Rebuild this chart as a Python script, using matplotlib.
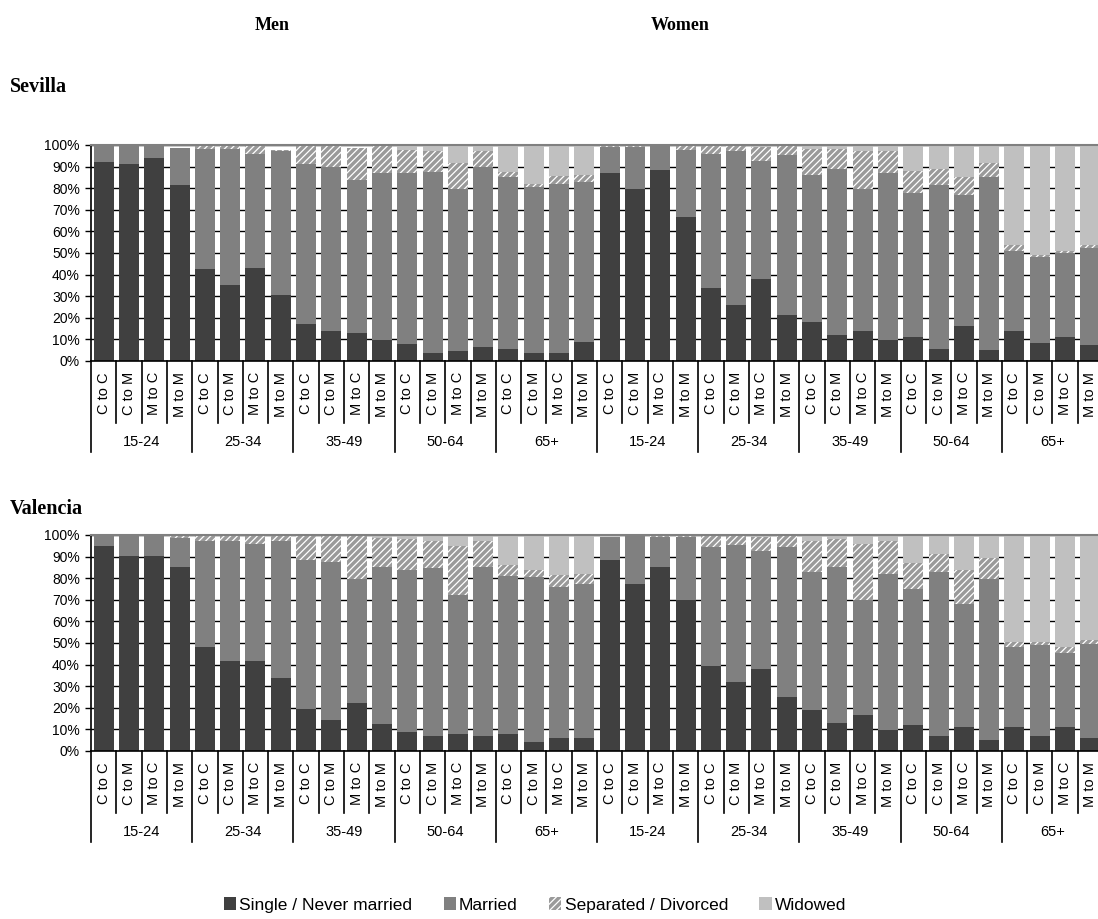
import numpy as np
import matplotlib.pyplot as plt
import matplotlib.transforms as transforms
from matplotlib.patches import Patch

plt.rcParams['font.family'] = ['Liberation Sans', 'DejaVu Sans']
plt.rcParams['hatch.color'] = 'white'
plt.rcParams['hatch.linewidth'] = 0.9

transitions = ["C to C", "C to M", "M to C", "M to M"]
age_groups = ["15-24", "25-34", "35-49", "50-64", "65+"]
sexes = ["Men", "Women"]
series = ["Single / Never married", "Married", "Separated / Divorced", "Widowed"]
colors = ["#404040", "#808080", "#9a9a9a", "#c0c0c0"]

# Sevilla, men (20 bars) then women (20 bars), in %
sev_single = [92, 91, 94, 81.5, 42.5, 35, 43, 30.5, 17, 14, 13, 9.5, 8, 3.5, 4.5, 6.5, 5.5, 3.5, 3.5, 9,
              87, 79.5, 88.5, 66.5, 34, 26, 38, 21.5, 18, 12, 14, 9.5, 11, 5.5, 16, 5, 14, 8.5, 11, 7.5]
sev_married = [7.5, 8.5, 6, 17, 55.5, 63, 53, 66.5, 74, 76, 71, 77.5, 79, 84, 75, 83.5, 79.5, 77, 78.5, 74,
               12, 19.5, 11.5, 31, 62, 71, 54.5, 74, 68, 77, 65.5, 77.5, 67, 76, 61, 80, 37, 39.5, 39, 45]
sev_separated = [0.5, 0.5, 0, 0, 2, 2, 3.5, 0.5, 8.5, 9.5, 14.5, 12.5, 10.5, 9.5, 12, 7, 2.5, 1.5, 3.5, 3,
                 1, 1, 0, 2, 3.5, 2.5, 6.5, 4, 12, 9, 17.5, 10, 10, 7.5, 8, 6.5, 2.5, 1, 1, 1]
sev_widowed = [0, 0, 0, 0, 0, 0, 0.5, 0, 0.5, 0.5, 0, 0.5, 2.5, 3, 8.5, 3, 12.5, 18, 14.5, 14,
               0, 0, 0, 0.5, 0.5, 0.5, 1, 0.5, 2, 2, 3, 3, 12, 11, 15, 8.5, 46.5, 51, 49, 46.5]

# Valencia
val_single = [95, 90.5, 90.5, 85, 48, 41.5, 41.5, 34, 19.5, 14.5, 22, 12.5, 9, 7, 8, 7, 8, 4, 6, 6,
              88.5, 77.5, 85, 70, 39.5, 32, 38, 25, 19, 13, 16.5, 9.5, 12, 7, 11, 5, 11, 7, 11, 6]
val_married = [4.5, 9, 9.5, 13.5, 49, 55.5, 54.5, 63, 69, 73, 57.5, 72.5, 75, 77.5, 64, 78, 73, 76.5, 70, 71.5,
               10.5, 22, 14, 29, 55, 63.5, 54.5, 69.5, 64, 72, 53.5, 72.5, 63, 76, 57, 74.5, 37, 42, 34.5, 43.5]
val_separated = [0.5, 0.5, 0, 1, 2.5, 2.5, 3.5, 2.5, 11, 12, 20, 13.5, 14, 12.5, 23, 12, 5, 3.5, 5.5, 4.5,
                 0, 0.5, 1, 1, 5, 4, 6.5, 5, 14, 13, 26, 15, 12, 8, 16, 10, 2.5, 1.5, 2.5, 2]
val_widowed = [0, 0, 0, 0.5, 0.5, 0.5, 0.5, 0.5, 0.5, 0.5, 0.5, 1.5, 2, 3, 5, 3, 14, 16, 18.5, 18,
               0, 0, 0, 0, 0.5, 0.5, 1, 0.5, 3, 2, 4, 3, 13, 9, 16, 10.5, 49.5, 49.5, 52, 48.5]

W, H = 1098, 919
fig = plt.figure(figsize=(W / 100, H / 100), dpi=100)


def panel(top_px, data):
    ax_h = 216
    ax = fig.add_axes([91 / W, 1 - (top_px + ax_h) / H, 1012 / W, ax_h / H])
    x = np.arange(len(data[0]))
    bottom = np.zeros(len(x))
    for k, vals in enumerate(data):
        vals = np.array(vals, dtype=float)
        ax.bar(x, vals, bottom=bottom, width=0.79, color=colors[k], linewidth=0,
               edgecolor='white', hatch='/////' if k == 2 else None, zorder=2)
        bottom += vals
    ax.set_xlim(-0.5, len(x) - 0.5)
    ax.set_ylim(0, 100)
    ax.set_yticks(np.arange(0, 101, 10))
    ax.set_yticklabels(["{}%".format(v) for v in range(0, 101, 10)], fontsize=10)
    ax.set_xticks([])
    ax.set_axisbelow(True)
    ax.yaxis.grid(True, color='black', linewidth=1.0)
    ax.tick_params(axis='y', direction='out', length=4, width=1, pad=4)
    ax.spines['right'].set_visible(False)
    ax.spines['top'].set_color('#808080')
    ax.spines['top'].set_linewidth(1.5)
    ax.spines['left'].set_linewidth(1.2)
    ax.spines['bottom'].set_linewidth(1.2)

    trans = transforms.blended_transform_factory(ax.transData, ax.transAxes)
    for i in range(len(x) + 1):
        depth = 91 if i % 4 == 0 else 62
        ax.plot([i - 0.5, i - 0.5], [0, -depth / ax_h], transform=trans, clip_on=False,
                color='black', linewidth=1.2)
    for i in range(len(x)):
        ax.text(i, -11 / ax_h, transitions[i % 4], rotation=90, ha='center', va='top',
                transform=trans, fontsize=10.5)
    for g in range(len(x) // 4):
        ax.text(g * 4 + 1.5, -81 / ax_h, age_groups[g % 5], ha='center', va='center',
                transform=trans, fontsize=10.5)
    return ax


panel(145, [sev_single, sev_married, sev_separated, sev_widowed])
panel(535, [val_single, val_married, val_separated, val_widowed])

serif = ['Liberation Serif', 'DejaVu Serif']
fig.text(272 / W, 1 - 25 / H, sexes[0], ha='center', va='center', family=serif, weight='bold', fontsize=13)
fig.text(680 / W, 1 - 25 / H, sexes[1], ha='center', va='center', family=serif, weight='bold', fontsize=13)
fig.text(10 / W, 1 - 87 / H, "Sevilla", ha='left', va='center', family=serif, weight='bold', fontsize=14.5)
fig.text(10 / W, 1 - 509 / H, "Valencia", ha='left', va='center', family=serif, weight='bold', fontsize=14.5)

handles = [Patch(facecolor=colors[k], edgecolor='white', linewidth=0,
                 hatch='/////' if k == 2 else None) for k in range(4)]
fig.legend(handles, series, loc='center', bbox_to_anchor=(535 / W, 1 - 905 / H), ncol=4,
           frameon=False, fontsize=12.5, handlelength=0.7, handleheight=0.7,
           handletextpad=0.2, columnspacing=1.8)

fig.savefig("out.png", dpi=100)
